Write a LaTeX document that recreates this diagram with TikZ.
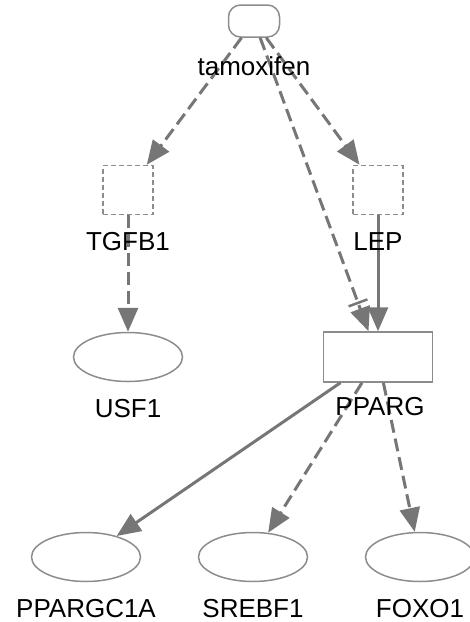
\documentclass[tikz,border=0pt]{standalone}
\usepackage{fontspec}
\setmainfont{Liberation Sans}
\usetikzlibrary{arrows.meta,positioning,shapes.geometric}
\definecolor{nodegray}{HTML}{8C8C8C}
\definecolor{edgegray}{HTML}{767676}

\begin{document}
\begin{tikzpicture}[
  x=1pt, y=-1pt,
  drug/.style={draw=nodegray, line width=1.5pt, rounded corners=12pt,
    minimum width=51pt, minimum height=32pt, inner sep=0pt},
  gene/.style={draw=nodegray, line width=1.5pt, dash pattern=on 5pt off 3pt,
    minimum width=50pt, minimum height=49pt, inner sep=0pt},
  prot/.style={draw=nodegray, line width=1.5pt,
    minimum width=109pt, minimum height=50pt, inner sep=0pt},
  tf/.style={ellipse, draw=nodegray, line width=1.5pt,
    minimum width=109pt, minimum height=49pt, inner sep=0pt},
  symb/.style={font=\fontsize{26}{30}\selectfont, inner sep=0pt},
  act/.style={draw=edgegray, line width=3pt, -{Triangle[length=24pt,width=20pt]}},
  dact/.style={act, dash pattern=on 13pt off 6pt},
  inh/.style={dact, -{Bar[width=20pt,line width=2.5pt,sep=5pt]Triangle[length=24pt,width=20pt]}}
]
  \useasboundingbox (0,0) rectangle (470,622);

  \node[drug] (tam) at (254,21) {};
  \node[gene] (tgfb) at (128,190) {};
  \node[gene] (lep) at (378,190) {};
  \node[tf] (usf) at (128,357) {};
  \node[prot] (pparg) at (378,357) {};
  \node[tf] (pgc) at (86,557) {};
  \node[tf] (srebf) at (253,557) {};
  \node[tf] (foxo) at (420,557) {};

  % edges
  \draw[dact] (tam) -- (tgfb);
  \draw[dact] (tam) -- (lep);
  \draw[inh] (tam) -- (pparg);
  \draw[dact] (tgfb) -- (usf);
  \draw[act] (lep) -- (pparg);
  \draw[act] (pparg) -- (pgc);
  \draw[dact] (pparg) -- (srebf);
  \draw[dact] (pparg) -- (foxo);

  % names
  \node[symb, below=38pt of tam.south, anchor=base] (taml) {tamoxifen};
  \node[symb, below=35pt of tgfb.south, anchor=base] (tgfbl) {TGFB1};
  \node[symb, below=35pt of lep.south, anchor=base] (lepl) {LEP};
  \node[symb, below=35pt of usf.south, anchor=base] (usfl) {USF1};
  \node[symb, below=33pt of pparg.south, anchor=base, xshift=2pt] (ppargl) {PPARG};
  \node[symb, below=35pt of pgc.south, anchor=base] (pgcl) {PPARGC1A};
  \node[symb, below=35pt of srebf.south, anchor=base] (srebfl) {SREBF1};
  \node[symb, below=35pt of foxo.south, anchor=base] (foxol) {FOXO1};
\end{tikzpicture}
\end{document}
